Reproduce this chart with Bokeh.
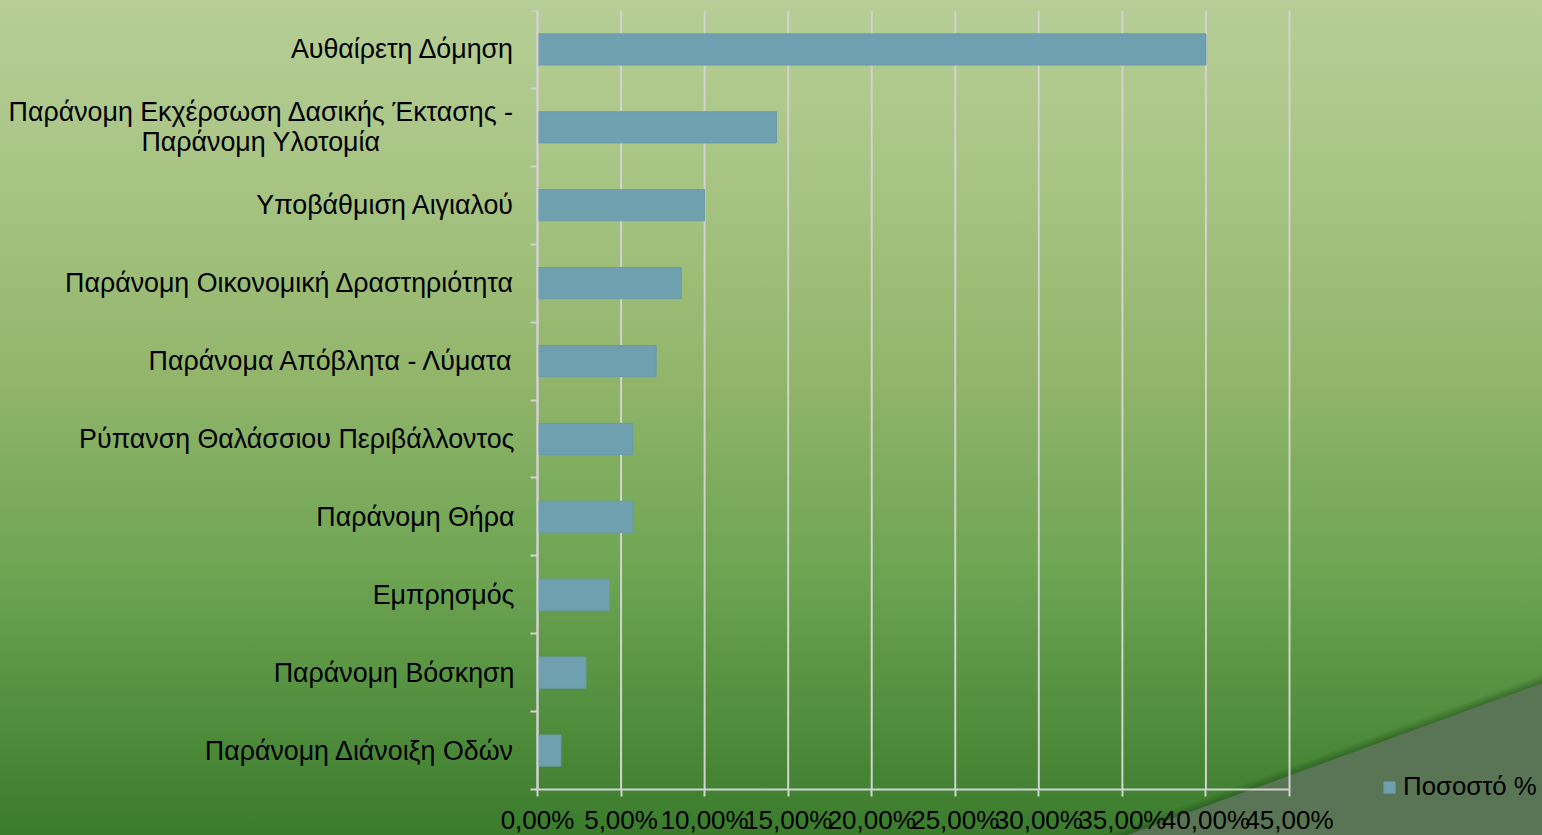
from bokeh.plotting import figure
from bokeh.models import Range1d, FixedTicker, Legend, LegendItem
from bokeh.embed import file_html
from bokeh.resources import INLINE

# ---- data (top to bottom as in the chart) ----
NB = "\u00a0" * 18  # padding so the second line sits centred under the first
categories = [
    "Αυθαίρετη Δόμηση",
    "Παράνομη Εκχέρσωση Δασικής Έκτασης -\nΠαράνομη Υλοτομία" + NB,
    "Υποβάθμιση Αιγιαλού",
    "Παράνομη Οικονομική Δραστηριότητα",
    "Παράνομα Απόβλητα - Λύματα",
    "Ρύπανση Θαλάσσιου Περιβάλλοντος",
    "Παράνομη Θήρα",
    "Εμπρησμός",
    "Παράνομη Βόσκηση",
    "Παράνομη Διάνοιξη Οδών",
]
values = [40.0, 14.3, 10.0, 8.6, 7.1, 5.7, 5.7, 4.3, 2.9, 1.4]
x_ticks = [0, 5, 10, 15, 20, 25, 30, 35, 40, 45]
x_tick_labels = ["0,00%", "5,00%", "10,00%", "15,00%", "20,00%",
                 "25,00%", "30,00%", "35,00%", "40,00%", "45,00%"]
series_name = "Ποσοστό %"

n = len(categories)
y_pos = [n - i - 0.5 for i in range(n)]
y_bounds = list(range(n + 1))
x_max = x_ticks[-1]

FONT = "Liberation Sans"
GRID = "#d2d2d2"

# frame covers the page; x 0..45 spans px 537..1289, categories span px 10..789
px_per_x = (1289 - 537) / x_max
px_per_y = (789 - 10) / n
p = figure(width=1542, height=835,
           x_range=Range1d(-537 / px_per_x, x_max + (1542 - 1289) / px_per_x),
           y_range=Range1d(-(835 - 789) / px_per_y, n),
           output_backend="svg", toolbar_location=None,
           min_border_left=0, min_border_right=0, min_border_top=10, min_border_bottom=0)
p.border_fill_color = None
p.background_fill_color = None
p.outline_line_color = None
p.styles = {
    "background": (
        "linear-gradient(159.9deg, rgba(0,0,0,0) 88.5%, rgba(25,70,20,0.45) 89.1%, "
        "#5a7555 89.2%, #5a7555 100%), "
        "linear-gradient(to bottom, #b6ce96 0%, #a9c585 20%, #92b56b 45%, #6ea553 68%, #3a7b2c 100%)"
    )
}

# vertical grid lines at the x ticks, limited to the category area
p.segment(x0=x_ticks, x1=x_ticks, y0=0, y1=n, line_color=GRID, line_width=2)

r = p.hbar(y=y_pos, right=values, left=0, height=0.4,
           fill_color="#6fa0b0", line_color="#6a9bab", line_width=1)

# x axis (drawn at y = 0 inside the frame)
xa = p.xaxis[0]
xa.fixed_location = 0
xa.bounds = (0, x_max)
xa.ticker = FixedTicker(ticks=x_ticks, minor_ticks=[])
xa.major_label_overrides = {float(t): l for t, l in zip(x_ticks, x_tick_labels)}
xa.axis_line_color = GRID
xa.axis_line_width = 2
xa.major_tick_line_color = GRID
xa.major_tick_line_width = 2
xa.major_tick_out = 7
xa.major_tick_in = 0
xa.minor_tick_line_color = None
xa.major_label_text_font = FONT
xa.major_label_text_font_size = "26px"
xa.major_label_text_color = "black"
xa.major_label_standoff = 8

# y axis (drawn at x = 0 inside the frame)
ya = p.yaxis[0]
ya.fixed_location = 0
ya.bounds = (0, n)
ya.ticker = FixedTicker(ticks=y_pos, minor_ticks=y_bounds)
ya.major_label_overrides = {float(y): c for y, c in zip(y_pos, categories)}
ya.axis_line_color = GRID
ya.axis_line_width = 2
ya.major_tick_line_color = None
ya.major_tick_out = 0
ya.major_tick_in = 0
ya.minor_tick_line_color = GRID
ya.minor_tick_line_width = 2
ya.minor_tick_out = 7
ya.minor_tick_in = 0
ya.major_label_text_font = FONT
ya.major_label_text_font_size = "26.8px"
ya.major_label_text_line_height = 1.0
ya.major_label_text_color = "black"
ya.major_label_standoff = 16

p.xgrid.visible = False
p.ygrid.visible = False

legend = Legend(items=[LegendItem(label=series_name, renderers=[r])],
                location=(1382, 34), padding=0, margin=0, spacing=0,
                glyph_width=14, glyph_height=14, label_standoff=7,
                label_text_font=FONT, label_text_font_size="25.8px",
                label_text_color="black", border_line_color=None,
                background_fill_alpha=0)
p.add_layout(legend)

open("out.html", "w").write(file_html(p, INLINE))
